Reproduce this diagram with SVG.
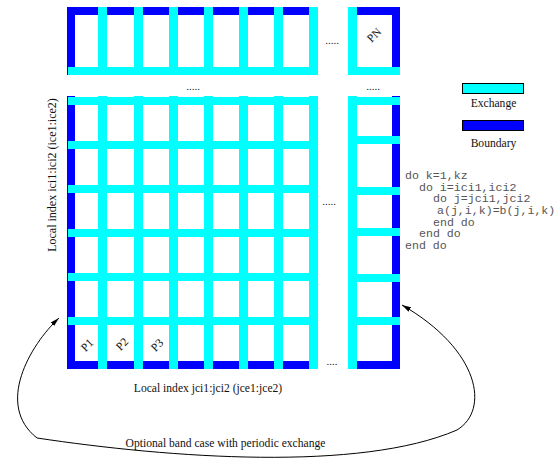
<svg xmlns="http://www.w3.org/2000/svg" width="559" height="459" viewBox="0 0 559 459">
<style>
.b{fill:#0000FF}
.c{fill:#00FFFF}
.t{font-family:"Liberation Serif","Times New Roman",serif;font-size:11.6px;fill:#111}
.code{font-family:"Liberation Mono","Courier New",monospace;font-size:11.6px;fill:#555}
.dots{font-family:"Liberation Serif",serif;font-size:11px;fill:#222}
.leg{stroke:#000;stroke-width:1}
</style>
<defs>
<marker id="ah" markerUnits="userSpaceOnUse" markerWidth="9" markerHeight="5" viewBox="0 0 9 5" refX="9" refY="2.5" orient="auto-start-reverse">
<path d="M0,0 L9,2.5 L0,5 z" fill="#000"/>
</marker>
</defs>
<rect width="559" height="459" fill="#fff"/>

<g id="top-block">
<rect class="b" x="67" y="7" width="251" height="8"/>
<rect class="b" x="67" y="7" width="8" height="68"/>
<rect class="c" x="68" y="67" width="250" height="8"/>
<rect class="c" x="98" y="7" width="9" height="68"/>
<rect class="c" x="134" y="7" width="9" height="68"/>
<rect class="c" x="169" y="7" width="9" height="68"/>
<rect class="c" x="204" y="7" width="9" height="68"/>
<rect class="c" x="239" y="7" width="9" height="68"/>
<rect class="c" x="274" y="7" width="9" height="68"/>
<rect class="c" x="309" y="7" width="9" height="68"/>
</g>

<g id="top-right-block">
<rect class="b" x="357" y="7" width="43" height="8"/>
<rect class="b" x="392" y="7" width="8" height="62"/>
<rect class="c" x="348" y="7" width="9" height="68"/>
<rect class="c" x="348" y="67" width="52" height="8"/>
<text class="t" transform="translate(374,35) rotate(-45)" text-anchor="middle" dy="4">PN</text>
</g>

<g id="main-block">
<rect class="b" x="67" y="96" width="8" height="273"/>
<rect class="b" x="67" y="361" width="251" height="8"/>
<rect class="c" x="68" y="97" width="250" height="8"/>
<rect class="c" x="68" y="141" width="250" height="8"/>
<rect class="c" x="68" y="185" width="250" height="8"/>
<rect class="c" x="68" y="229" width="250" height="8"/>
<rect class="c" x="68" y="273" width="250" height="8"/>
<rect class="c" x="68" y="317" width="250" height="8"/>
<rect class="c" x="98" y="96" width="9" height="273"/>
<rect class="c" x="134" y="96" width="9" height="273"/>
<rect class="c" x="169" y="96" width="9" height="273"/>
<rect class="c" x="204" y="96" width="9" height="273"/>
<rect class="c" x="239" y="96" width="9" height="273"/>
<rect class="c" x="274" y="96" width="9" height="273"/>
<rect class="c" x="309" y="96" width="9" height="273"/>
<text class="t" transform="translate(87,345) rotate(-45)" text-anchor="middle" dy="4">P1</text>
<text class="t" transform="translate(122,344) rotate(-45)" text-anchor="middle" dy="4">P2</text>
<text class="t" transform="translate(157,345) rotate(-45)" text-anchor="middle" dy="4">P3</text>
</g>

<g id="right-block">
<rect class="b" x="392" y="96" width="8" height="273"/>
<rect class="b" x="348" y="361" width="52" height="8"/>
<rect class="c" x="348" y="96" width="9" height="273"/>
<rect class="c" x="348" y="97" width="52" height="8"/>
<rect class="c" x="348" y="136" width="52" height="8"/>
<rect class="c" x="348" y="187" width="52" height="8"/>
<rect class="c" x="348" y="228" width="52" height="8"/>
<rect class="c" x="348" y="274" width="52" height="8"/>
<rect class="c" x="348" y="317" width="52" height="8"/>
</g>

<g id="ellipses">
<text class="dots" x="332" y="44" text-anchor="middle">.....</text>
<text class="dots" x="193" y="90" text-anchor="middle">.....</text>
<text class="dots" x="373" y="90" text-anchor="middle">.....</text>
<text class="dots" x="329" y="205" text-anchor="middle">.....</text>
<text class="dots" x="332" y="365" text-anchor="middle">....</text>
</g>

<g id="legend">
<rect class="c leg" x="462.5" y="83.5" width="61" height="10"/>
<text class="t" x="493.5" y="107" text-anchor="middle">Exchange</text>
<rect class="b leg" x="462.5" y="120.5" width="61" height="10"/>
<text class="t" x="493.5" y="147" text-anchor="middle">Boundary</text>
</g>

<g id="code">
<text class="code" x="405" y="179">do k=1,kz</text>
<text class="code" x="419" y="190.7">do i=ici1,ici2</text>
<text class="code" x="433" y="202.3">do j=jci1,jci2</text>
<text class="code" x="437" y="214">a(j,i,k)=b(j,i,k)</text>
<text class="code" x="433" y="225.7">end do</text>
<text class="code" x="419" y="237.3">end do</text>
<text class="code" x="405" y="249">end do</text>
</g>

<g id="labels">
<text class="t" transform="translate(56,175) rotate(-90)" text-anchor="middle" style="font-size:12px">Local index ici1:ici2 (ice1:ice2)</text>
<text class="t" x="208" y="392" text-anchor="middle">Local index jci1:jci2 (jce1:jce2)</text>
<text class="t" x="225.5" y="447" text-anchor="middle">Optional band case with periodic exchange</text>
</g>

<g id="connectors">
<path d="M59,318 C30,345 -5,405 37,438 C170,458 360,472 457,430 C490,410 480,350 402,305" fill="none" stroke="#000" stroke-width="1" marker-start="url(#ah)" marker-end="url(#ah)"/>
</g>
</svg>
